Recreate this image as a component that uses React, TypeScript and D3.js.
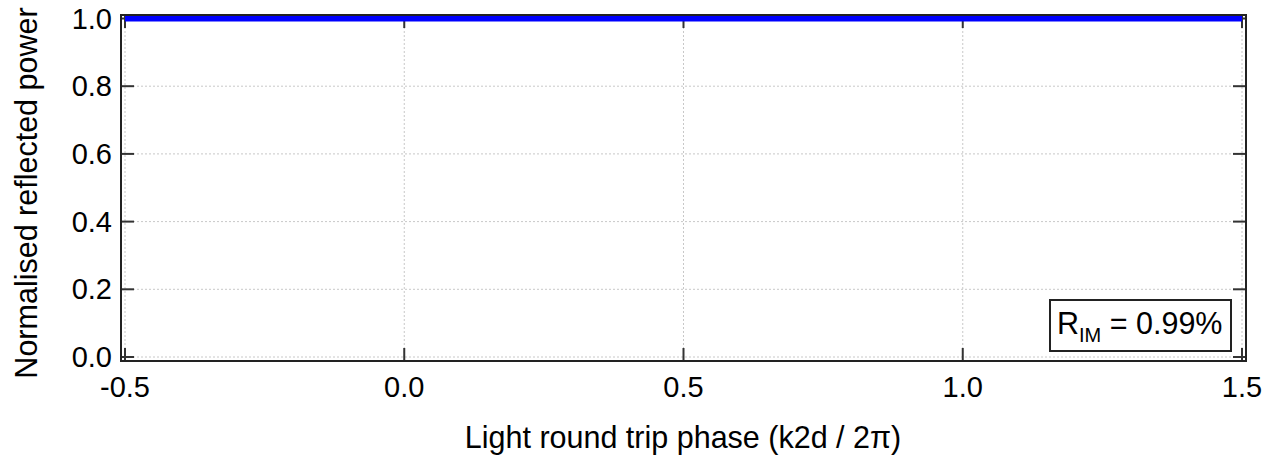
import { useEffect, useRef } from "react";
import * as d3 from "d3";

// data: reflected power stays flat at ~1 over the whole phase range
const phase = [-0.5, 0.0, 0.5, 1.0, 1.5];
const power = [1.0, 1.0, 1.0, 1.0, 1.0];

const xTicks = [-0.5, 0.0, 0.5, 1.0, 1.5];
const yTicks = [0.0, 0.2, 0.4, 0.6, 0.8, 1.0];

const rimLabel = "0.99%";

function App() {
  const svgRef = useRef<SVGSVGElement>(null);

  useEffect(() => {
    const width = 1264;
    const height = 455;
    const font = "'Liberation Sans', Arial, sans-serif";

    const frame = { left: 121, right: 1246, top: 15, bottom: 361 };

    const svg = d3.select(svgRef.current);
    svg.selectAll("*").remove();
    svg
      .attr("width", width)
      .attr("height", height)
      .style("display", "block")
      .style("position", "absolute")
      .style("left", "0px")
      .style("top", "0px");

    const x = d3.scaleLinear().domain([-0.5, 1.5]).range([125, 1242]);
    const y = d3.scaleLinear().domain([0, 1]).range([357, 18.5]);

    svg.append("rect").attr("width", width).attr("height", height).attr("fill", "#fff");

    // dotted grid
    const grid = svg.append("g").attr("stroke", "#c8c8c8").attr("stroke-width", 1).attr("stroke-dasharray", "2 2");
    grid
      .selectAll("line.gx")
      .data(xTicks)
      .enter()
      .append("line")
      .attr("x1", (d) => x(d))
      .attr("x2", (d) => x(d))
      .attr("y1", frame.top)
      .attr("y2", frame.bottom);
    grid
      .selectAll("line.gy")
      .data(yTicks)
      .enter()
      .append("line")
      .attr("x1", frame.left)
      .attr("x2", frame.right)
      .attr("y1", (d) => y(d))
      .attr("y2", (d) => y(d));

    // inward ticks on all sides
    const tl = 13;
    const ticks = svg.append("g").attr("stroke", "#333").attr("stroke-width", 2);
    xTicks.forEach((t) => {
      ticks.append("line").attr("x1", x(t)).attr("x2", x(t)).attr("y1", frame.bottom).attr("y2", frame.bottom - tl);
      ticks.append("line").attr("x1", x(t)).attr("x2", x(t)).attr("y1", frame.top).attr("y2", frame.top + tl);
    });
    yTicks.forEach((t) => {
      ticks.append("line").attr("x1", frame.left).attr("x2", frame.left + tl).attr("y1", y(t)).attr("y2", y(t));
      ticks.append("line").attr("x1", frame.right).attr("x2", frame.right - tl).attr("y1", y(t)).attr("y2", y(t));
    });

    // the curve
    const line = d3
      .line<number>()
      .x((d, i) => x(phase[i]))
      .y((d) => y(d));
    svg
      .append("path")
      .datum(power)
      .attr("d", line)
      .attr("fill", "none")
      .attr("stroke", "#0000ff")
      .attr("stroke-width", 6);

    // frame
    svg
      .append("rect")
      .attr("x", frame.left)
      .attr("y", frame.top)
      .attr("width", frame.right - frame.left)
      .attr("height", frame.bottom - frame.top)
      .attr("fill", "none")
      .attr("stroke", "#222")
      .attr("stroke-width", 2);

    // tick labels
    svg
      .append("g")
      .selectAll("text")
      .data(xTicks)
      .enter()
      .append("text")
      .attr("x", (d) => x(d))
      .attr("y", 397)
      .attr("text-anchor", "middle")
      .style("font-family", font)
      .style("font-size", "29px")
      .text((d) => d.toFixed(1));
    svg
      .append("g")
      .selectAll("text")
      .data(yTicks)
      .enter()
      .append("text")
      .attr("x", 112)
      .attr("y", (d) => y(d) + 10)
      .attr("text-anchor", "end")
      .style("font-family", font)
      .style("font-size", "29px")
      .text((d) => d.toFixed(1));

    // axis titles
    svg
      .append("text")
      .attr("x", 683)
      .attr("y", 448)
      .attr("text-anchor", "middle")
      .style("font-family", font)
      .style("font-size", "30.5px")
      .text("Light round trip phase (k2d / 2π)");
    svg
      .append("text")
      .attr("transform", "translate(37,193) rotate(-90)")
      .attr("text-anchor", "middle")
      .style("font-family", font)
      .style("font-size", "30.5px")
      .text("Normalised reflected power");

    // annotation box
    svg
      .append("rect")
      .attr("x", 1050)
      .attr("y", 300)
      .attr("width", 181)
      .attr("height", 51)
      .attr("fill", "#fff")
      .attr("stroke", "#222")
      .attr("stroke-width", 2);
    const ann = svg
      .append("text")
      .attr("x", 1057)
      .attr("y", 334)
      .style("font-family", font)
      .style("font-size", "30.5px");
    ann.append("tspan").text("R");
    ann.append("tspan").attr("dy", 8).style("font-size", "20px").text("IM");
    ann.append("tspan").attr("dy", -8).text(` = ${rimLabel}`);
  }, []);

  return <svg ref={svgRef}></svg>;
}

export default App;
